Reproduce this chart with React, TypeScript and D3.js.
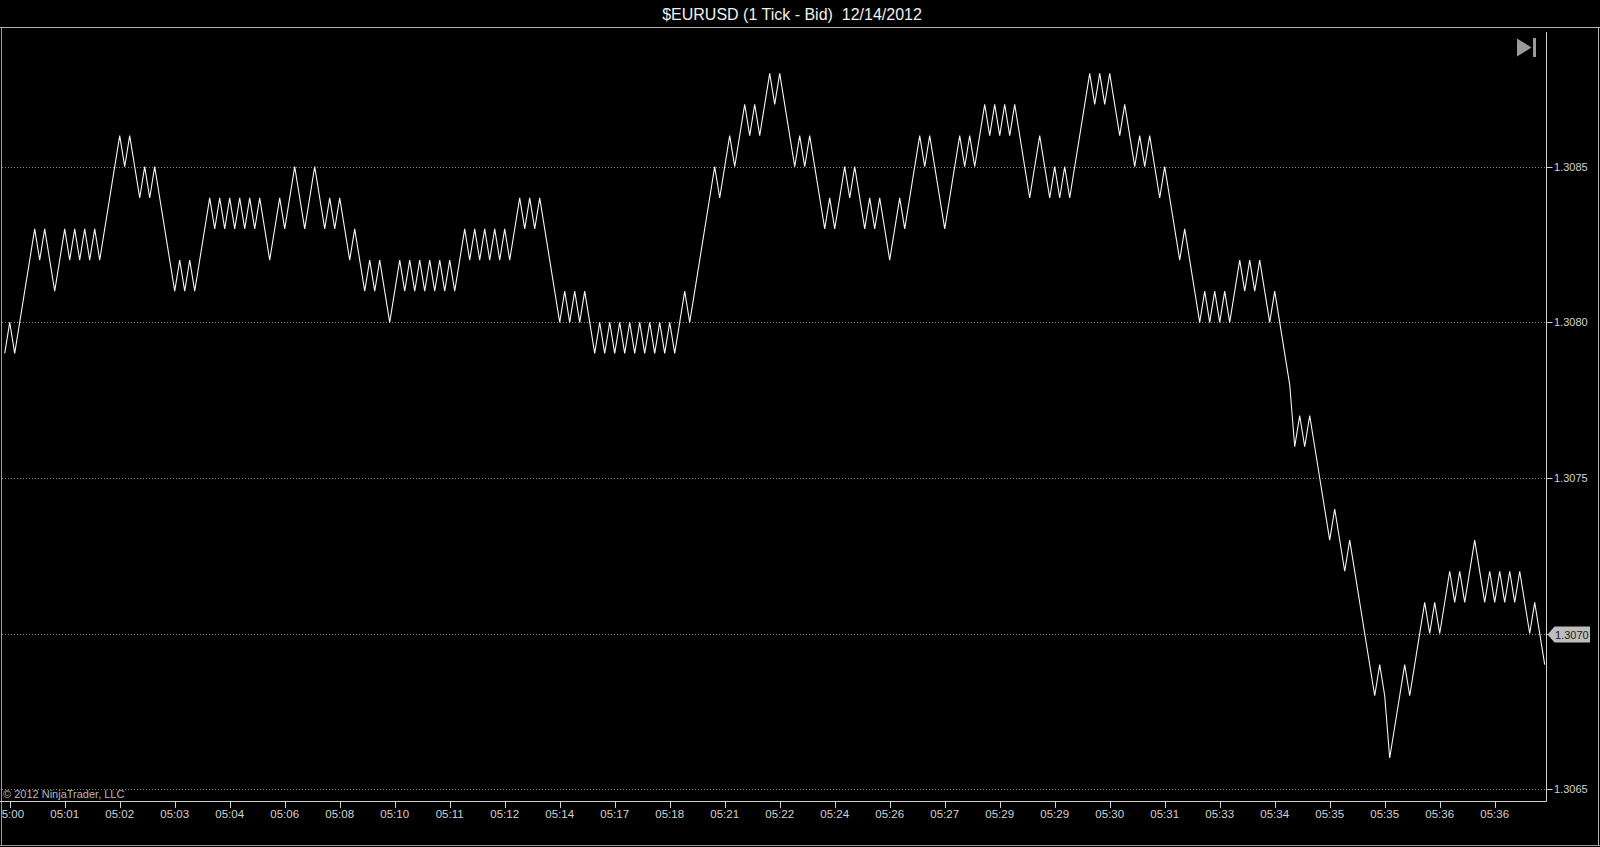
import React from "react";
import * as d3 from "d3";

const titleText = "$EURUSD (1 Tick - Bid)  12/14/2012";
const copyrightText = "© 2012 NinjaTrader, LLC";

// vertices of the tick line: tick index and bid price
const vertexTick = [
  0, 1, 2, 6, 7, 8, 10, 12, 13, 14, 15, 16, 17, 18, 19, 23, 24, 25, 27, 28, 29, 30,
  34, 35, 36, 37, 38, 41, 42, 43, 44, 45, 46, 47, 48, 49, 50, 51, 53, 55, 56, 58, 60,
  62, 64, 65, 66, 67, 69, 70, 72, 73, 74, 75, 77, 79, 80, 81, 82, 83, 84, 85, 86, 87,
  88, 89, 90, 92, 93, 94, 95, 96, 97, 98, 99, 100, 101, 103, 104, 105, 106, 107, 111,
  112, 113, 114, 115, 116, 118, 119, 120, 121, 122, 123, 124, 125, 126, 127, 128, 129,
  130, 131, 132, 133, 134, 136, 137, 142, 143, 145, 146, 148, 149, 150, 151, 153, 154,
  155, 158, 159, 160, 161, 164, 165, 166, 168, 169, 170, 172, 173, 174, 175, 177, 179,
  180, 183, 184, 185, 188, 191, 192, 193, 194, 196, 197, 198, 199, 200, 201, 202, 205,
  207, 209, 210, 211, 212, 213, 217, 218, 219, 220, 221, 223, 224, 226, 227, 228, 229,
  231, 232, 235, 236, 239, 240, 241, 242, 243, 244, 245, 247, 248, 249, 250, 251, 253,
  254, 255, 257, 258, 259, 260, 261, 262, 265, 266, 268, 269, 274, 275, 276, 277, 280,
  281, 284, 285, 286, 287, 289, 290, 291, 292, 294, 296, 297, 298, 299, 300, 301, 302,
  303, 305, 306, 308,
];

const vertexPrice = [
  1.3079, 1.308, 1.3079, 1.3083, 1.3082, 1.3083, 1.3081, 1.3083, 1.3082, 1.3083, 1.3082,
  1.3083, 1.3082, 1.3083, 1.3082, 1.3086, 1.3085, 1.3086, 1.3084, 1.3085, 1.3084, 1.3085,
  1.3081, 1.3082, 1.3081, 1.3082, 1.3081, 1.3084, 1.3083, 1.3084, 1.3083, 1.3084, 1.3083,
  1.3084, 1.3083, 1.3084, 1.3083, 1.3084, 1.3082, 1.3084, 1.3083, 1.3085, 1.3083, 1.3085,
  1.3083, 1.3084, 1.3083, 1.3084, 1.3082, 1.3083, 1.3081, 1.3082, 1.3081, 1.3082, 1.308,
  1.3082, 1.3081, 1.3082, 1.3081, 1.3082, 1.3081, 1.3082, 1.3081, 1.3082, 1.3081, 1.3082,
  1.3081, 1.3083, 1.3082, 1.3083, 1.3082, 1.3083, 1.3082, 1.3083, 1.3082, 1.3083, 1.3082,
  1.3084, 1.3083, 1.3084, 1.3083, 1.3084, 1.308, 1.3081, 1.308, 1.3081, 1.308, 1.3081,
  1.3079, 1.308, 1.3079, 1.308, 1.3079, 1.308, 1.3079, 1.308, 1.3079, 1.308, 1.3079,
  1.308, 1.3079, 1.308, 1.3079, 1.308, 1.3079, 1.3081, 1.308, 1.3085, 1.3084, 1.3086,
  1.3085, 1.3087, 1.3086, 1.3087, 1.3086, 1.3088, 1.3087, 1.3088, 1.3085, 1.3086, 1.3085,
  1.3086, 1.3083, 1.3084, 1.3083, 1.3085, 1.3084, 1.3085, 1.3083, 1.3084, 1.3083, 1.3084,
  1.3082, 1.3084, 1.3083, 1.3086, 1.3085, 1.3086, 1.3083, 1.3086, 1.3085, 1.3086, 1.3085,
  1.3087, 1.3086, 1.3087, 1.3086, 1.3087, 1.3086, 1.3087, 1.3084, 1.3086, 1.3084, 1.3085,
  1.3084, 1.3085, 1.3084, 1.3088, 1.3087, 1.3088, 1.3087, 1.3088, 1.3086, 1.3087, 1.3085,
  1.3086, 1.3085, 1.3086, 1.3084, 1.3085, 1.3082, 1.3083, 1.308, 1.3081, 1.308, 1.3081,
  1.308, 1.3081, 1.308, 1.3082, 1.3081, 1.3082, 1.3081, 1.3082, 1.308, 1.3081, 1.308,
  1.3078, 1.3076, 1.3077, 1.3076, 1.3077, 1.3076, 1.3073, 1.3074, 1.3072, 1.3073, 1.3068,
  1.3069, 1.3068, 1.3066, 1.3069, 1.3068, 1.3071, 1.307, 1.3071, 1.307, 1.3072, 1.3071,
  1.3072, 1.3071, 1.3073, 1.3071, 1.3072, 1.3071, 1.3072, 1.3071, 1.3072, 1.3071, 1.3072,
  1.307, 1.3071, 1.3069,
];

const timeLabels = [
  "05:00", "05:01", "05:02", "05:03", "05:04", "05:06", "05:08", "05:10", "05:11", "05:12",
  "05:14", "05:17", "05:18", "05:21", "05:22", "05:24", "05:26", "05:27", "05:29", "05:29",
  "05:30", "05:31", "05:33", "05:34", "05:35", "05:35", "05:36", "05:36",
];
const timeLabelFirstTick = 1;
const timeLabelStep = 11;

const priceTicks = [1.3085, 1.308, 1.3075, 1.307, 1.3065];
const lastPriceMarker = 1.307;

const W = 1600;
const H = 847;
const plotLeft = 1;
const plotRight = 1546.5;
const plotTop = 32;
const plotBottom = 801;
const font = "'Liberation Sans', Arial, sans-serif";

export default function App() {
  const x = d3.scaleLinear().domain([0, 308]).range([4.7, 1544.7]);
  const y = d3.scaleLinear().domain([1.3065, 1.3085]).range([789.1, 166.7]);

  const pts = vertexTick.map((t, i) => [t, vertexPrice[i]] as [number, number]);
  const line = d3
    .line<[number, number]>()
    .x((d) => x(d[0]))
    .y((d) => y(d[1]));

  const labelTicks = timeLabels.map((_, k) => timeLabelFirstTick + k * timeLabelStep);
  const my = Math.round(y(lastPriceMarker)) + 0.5;

  return (
    <div style={{ position: "absolute", left: 0, top: 0, width: W, height: H, background: "#000" }}>
      <svg width={W} height={H} style={{ display: "block", background: "#000" }}>
        <defs>
          <clipPath id="plotclip">
            <rect x={plotLeft + 0.5} y={plotTop} width={plotRight - plotLeft - 0.5} height={plotBottom - plotTop} />
          </clipPath>
          <clipPath id="axisclip">
            <rect x={2} y={plotBottom} width={1560} height={40} />
          </clipPath>
        </defs>
        <rect x={0} y={0} width={W} height={H} fill="#000" />
        {/* title */}
        <text
          x={792}
          y={20}
          fill="#f0f0f0"
          fontFamily={font}
          fontSize={16}
          textAnchor="middle"
          style={{ whiteSpace: "pre" }}
          xmlSpace="preserve"
        >
          {titleText}
        </text>
        {/* frame */}
        <line x1={0} x2={W} y1={27.5} y2={27.5} stroke="#b4b4b4" strokeWidth={1} />
        <line x1={1.5} x2={1.5} y1={27.5} y2={846} stroke="#9a9a9a" strokeWidth={1} />
        <line x1={1598.5} x2={1598.5} y1={27.5} y2={846} stroke="#b4b4b4" strokeWidth={1} />
        <line x1={0} x2={W} y1={845.5} y2={845.5} stroke="#9a9a9a" strokeWidth={1} />
        {/* gridlines */}
        {priceTicks.map((p) => (
          <line
            key={"g" + p}
            x1={2}
            x2={plotRight}
            y1={Math.round(y(p)) + 0.5}
            y2={Math.round(y(p)) + 0.5}
            stroke="#8a8a8a"
            strokeWidth={1}
            strokeDasharray="1,2"
          />
        ))}
        {/* axes lines */}
        <line x1={0} x2={plotRight} y1={plotBottom + 0.5} y2={plotBottom + 0.5} stroke="#d0d0d0" strokeWidth={1} />
        <line x1={plotRight} x2={plotRight} y1={plotTop} y2={plotBottom + 0.5} stroke="#d0d0d0" strokeWidth={1} />
        {/* price axis */}
        {priceTicks.map((p) => (
          <g key={"p" + p}>
            <line x1={plotRight} x2={plotRight + 6} y1={Math.round(y(p)) + 0.5} y2={Math.round(y(p)) + 0.5} stroke="#d0d0d0" />
            {p !== lastPriceMarker && (
              <text x={1554} y={y(p) + 4} fill="#d2d2d2" fontFamily={font} fontSize={11}>
                {p.toFixed(4)}
              </text>
            )}
          </g>
        ))}
        {/* last price marker */}
        <path
          d={`M${plotRight + 1},${my} L${plotRight + 8},${my - 8} L1590,${my - 8} L1590,${my + 8} L${plotRight + 8},${my + 8} Z`}
          fill="#bdbdbd"
        />
        <text x={1555} y={my + 4} fill="#1a1a1a" fontFamily={font} fontSize={11}>
          {lastPriceMarker.toFixed(4)}
        </text>
        {/* time axis */}
        <g clipPath="url(#axisclip)">
          {labelTicks.map((t, k) => (
            <g key={"t" + k}>
              <line x1={Math.round(x(t)) + 0.5} x2={Math.round(x(t)) + 0.5} y1={plotBottom} y2={plotBottom + 7} stroke="#d0d0d0" />
              <text x={x(t)} y={817.5} fill="#d2d2d2" fontFamily={font} fontSize={11.5} textAnchor="middle">
                {timeLabels[k]}
              </text>
            </g>
          ))}
        </g>
        {/* copyright */}
        <text x={3} y={798} fill="#b8b8b8" fontFamily={font} fontSize={11}>
          {copyrightText}
        </text>
        {/* go-to-end icon */}
        <path d="M1517,38.5 L1531.5,47.5 L1517,56.5 Z" fill="#9a9a9a" />
        <rect x={1533} y={38} width={3} height={19} fill="#9a9a9a" />
        {/* price line */}
        <g clipPath="url(#plotclip)">
          <path d={line(pts) || ""} fill="none" stroke="#f4f4f4" strokeWidth={1.1} />
        </g>
      </svg>
    </div>
  );
}
